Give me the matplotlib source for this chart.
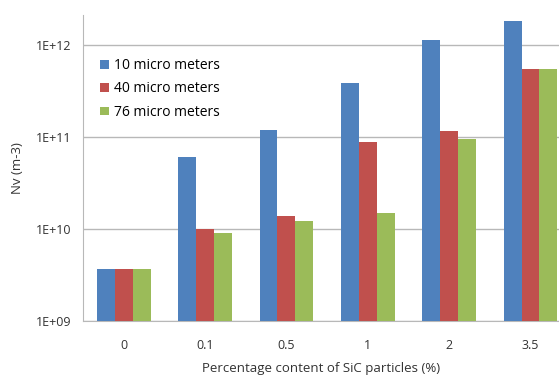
import matplotlib.pyplot as plt
import numpy as np
from matplotlib.ticker import FixedLocator, FixedFormatter, NullLocator

plt.rcParams['font.family'] = ['Open Sans', 'DejaVu Sans']

# SiC content groups and particle counts per particle size
categories = ["0", "0.1", "0.5", "1", "2", "3.5"]
size_labels = ["10 micro meters", "40 micro meters", "76 micro meters"]
nv_10 = [3.7e9, 6.0e10, 1.18e11, 3.8e11, 1.13e12, 1.8e12]
nv_40 = [3.7e9, 1.0e10, 1.39e10, 8.8e10, 1.15e11, 5.5e11]
nv_76 = [3.7e9, 9.1e9, 1.23e10, 1.5e10, 9.4e10, 5.4e11]
colors = ["#4F81BD", "#C0504D", "#9BBB59"]

fig = plt.figure(figsize=(5.59, 3.76), dpi=100)
ax = fig.add_axes([0.1485, 0.146, 0.8515, 0.814])

x = np.arange(len(categories))
w = 0.22
for i, (vals, lab, c) in enumerate(zip([nv_10, nv_40, nv_76], size_labels, colors)):
    ax.bar(x + (i - 1) * w, vals, width=w, color=c, label=lab, zorder=3)

ax.set_yscale('log')
ax.set_ylim(1e9, 2.1e12)
ax.set_xlim(-0.5, 5.35)

decades = [1e9, 1e10, 1e11, 1e12]
ax.yaxis.set_major_locator(FixedLocator(decades))
ax.yaxis.set_major_formatter(FixedFormatter(["1E+09", "1E+10", "1E+11", "1E+12"]))
ax.yaxis.set_minor_locator(NullLocator())
ax.set_xticks(x)
ax.set_xticklabels(categories)
ax.tick_params(axis='both', length=0, labelsize=9, colors='#333333')
ax.tick_params(axis='x', pad=13)
ax.tick_params(axis='y', pad=8)

ax.grid(axis='y', color='#b8b8b8', linewidth=1, zorder=0)
for s in ['top', 'right']:
    ax.spines[s].set_visible(False)
for s in ['left', 'bottom']:
    ax.spines[s].set_color('#b8b8b8')

ax.set_xlabel("Percentage content of SiC particles (%)", fontsize=9.5, color='#333333', labelpad=7)
ax.set_ylabel("Nv (m-3)", fontsize=9.5, color='#333333', labelpad=9)

ax.legend(loc='upper left', bbox_to_anchor=(0.01, 0.90), frameon=False, fontsize=10,
          handlelength=0.6, handleheight=0.6, handletextpad=0.4, labelspacing=0.6)

fig.savefig("out.png", dpi=100)
